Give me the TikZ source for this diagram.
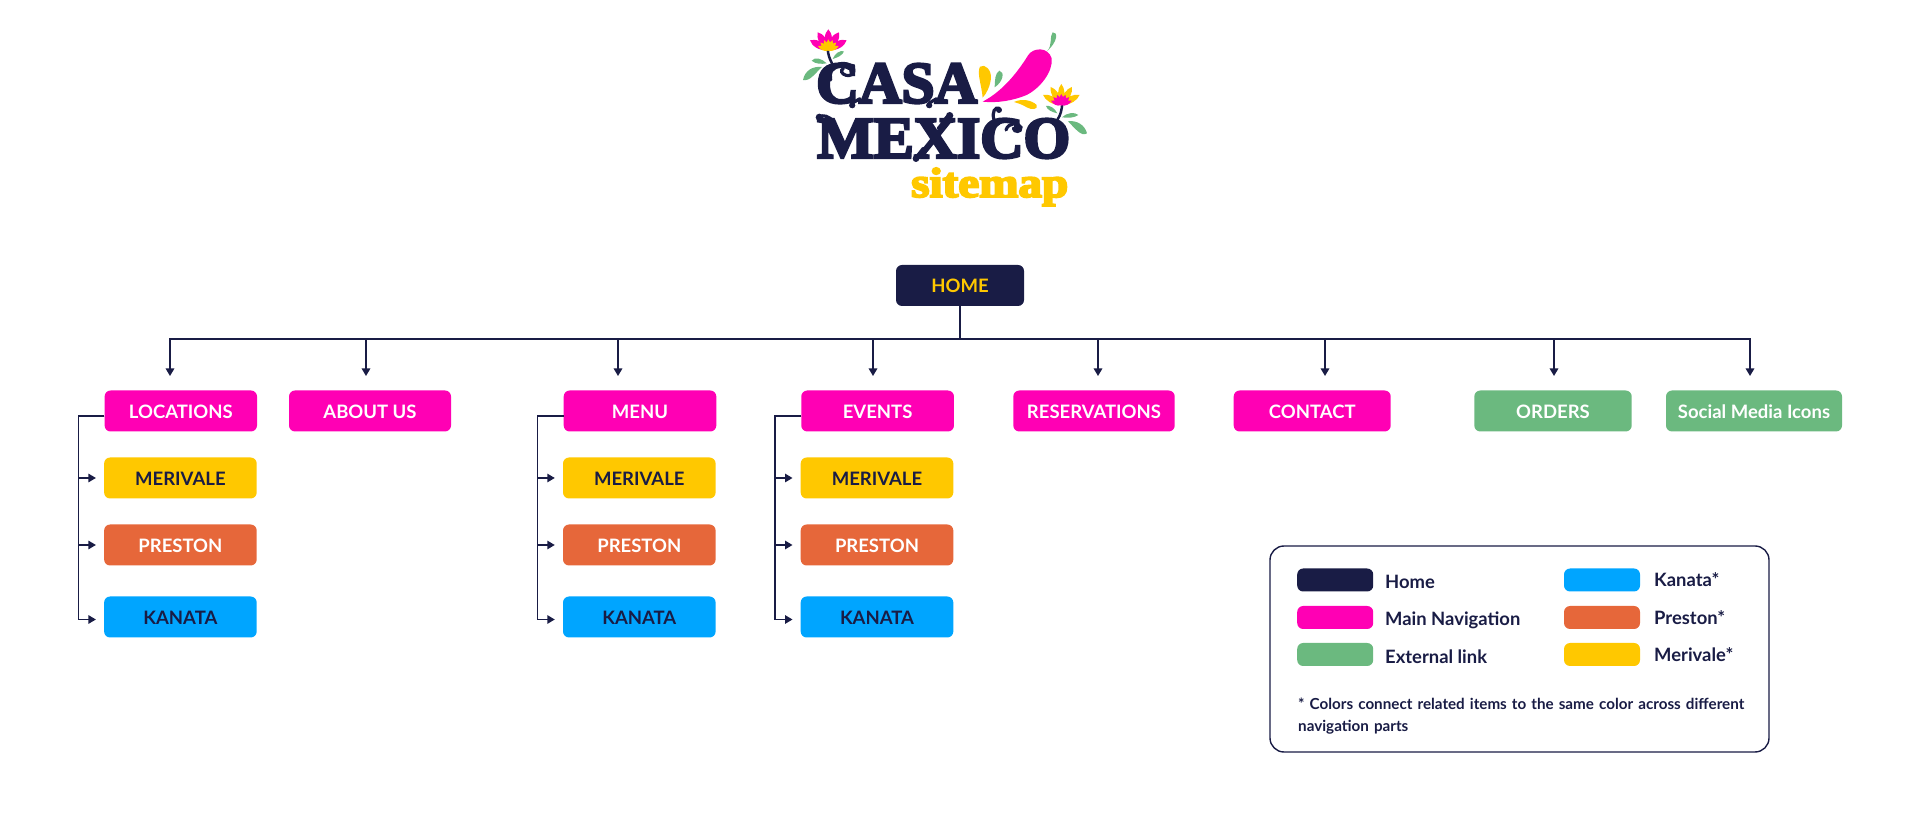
\documentclass[tikz,border=0pt]{standalone}
\usepackage{fontspec}
\usepackage{graphicx}
\setmainfont{Lato}
\newfontfamily\logofont[FakeBold=4.5]{Liberation Serif Bold}
\usetikzlibrary{arrows.meta,calc,positioning}
\definecolor{navy}{HTML}{191C45}
\definecolor{magentapink}{HTML}{FF00B4}
\definecolor{leafgreen}{HTML}{6BB97F}
\definecolor{sunyellow}{HTML}{FFC800}
\definecolor{chiliorange}{HTML}{E6673A}
\definecolor{skyblue}{HTML}{00A5FF}
\tikzset{
  basic/.style    = {rectangle, rounded corners=6pt, minimum height=41pt, inner sep=0pt,
                     text height=15pt, text depth=0pt,
                     font=\fontsize{18.5}{20}\selectfont\bfseries},
  home/.style     = {basic, fill=navy, text=sunyellow, minimum width=128pt},
  level 2/.style  = {basic, fill=magentapink, text=white},
  extern/.style   = {basic, fill=leafgreen, text=white},
  merivale/.style = {basic, fill=sunyellow, text=navy, minimum width=152.6pt},
  preston/.style  = {basic, fill=chiliorange, text=white, minimum width=152.6pt},
  kanata/.style   = {basic, fill=skyblue, text=navy, minimum width=152.6pt},
  swatch/.style   = {rectangle, rounded corners=6pt, minimum width=76pt, minimum height=23pt, inner sep=0pt},
  legendtext/.style = {anchor=base west, inner sep=0pt, text=navy,
                     font=\fontsize{18.4}{20}\selectfont\bfseries},
  link/.style     = {draw=navy, line width=1.4pt},
  curl/.style     = {draw=navy, line width=3.2pt, line cap=round}
}

\begin{document}
\begin{tikzpicture}[x=1pt, y=1pt, >={Triangle[length=7.5pt,width=8.5pt]}]
\useasboundingbox (0,0) rectangle (1920,825);

% logo lettering
\node[anchor=south west, inner sep=0pt, text=navy] (logocasa) at (816,721.5)
  {\resizebox{161pt}{39pt}{\logofont CASA}};
\node[anchor=south west, inner sep=0pt, text=navy] (logomexico) at (817,666.5)
  {\resizebox{253pt}{39pt}{\logofont MEXICO}};
\node[anchor=base west, inner sep=0pt, text=sunyellow] (logositemap) at (911,628)
  {\resizebox*{157pt}{38pt}{\logofont sitemap}};

% logo, in a frame of its own
\begin{scope}[shift={(760,825)}, x=0.3333pt, y=-0.3333pt]
% swashes of the letters
\draw[curl] (212,240) .. controls (205,200) and (235,185) .. (262,192)
  .. controls (292,200) and (285,232) .. (258,226) .. controls (245,222) and (240,212) .. (250,205);
\draw[curl] (178,352) .. controls (190,342) and (205,350) .. (220,362);
\fill[navy] (178,352) circle (11);
\draw[curl] (300,296) .. controls (285,305) and (272,310) .. (272,318);
\fill[navy] (277,316) circle (9);
\draw[curl] (530,296) .. controls (515,305) and (503,310) .. (503,318);
\fill[navy] (508,316) circle (9);
\draw[curl] (535,385) .. controls (550,370) and (555,350) .. (570,345);
\fill[navy] (569,347) circle (11);
\draw[curl] (490,445) .. controls (478,460) and (470,470) .. (466,478);
\fill[navy] (468,476) circle (10);
\draw[curl] (702,360) .. controls (695,335) and (705,320) .. (718,325);
\fill[navy] (717,330) circle (9);
\draw[curl] (738,390) .. controls (745,368) and (775,365) .. (783,382) .. controls (785,398) and (762,398) .. (760,385);
% chili and splashes
\fill[magentapink] (668,305) .. controls (735,270) and (780,205) .. (805,165)
  .. controls (820,142) and (865,140) .. (875,175)
  .. controls (880,215) and (840,265) .. (800,285)
  .. controls (760,302) and (710,310) .. (668,305) -- cycle;
\fill[leafgreen] (862,153) .. controls (878,135) and (868,110) .. (878,97)
  .. controls (895,95) and (893,125) .. (862,153) -- cycle;
\fill[sunyellow] (668,293) .. controls (665,255) and (650,220) .. (660,200)
  .. controls (675,190) and (695,210) .. (693,235)
  .. controls (690,260) and (680,280) .. (668,293) -- cycle;
\fill[leafgreen] (704,262) .. controls (705,240) and (705,220) .. (718,212)
  .. controls (735,215) and (730,245) .. (704,262) -- cycle;
\fill[sunyellow] (762,306) .. controls (785,295) and (815,300) .. (830,315)
  .. controls (835,330) and (815,330) .. (800,322)
  .. controls (790,315) and (775,310) .. (762,306) -- cycle;
% first flower
\draw[navy, line width=2.5pt, line cap=round] (203,148) .. controls (205,165) and (208,175) .. (216,190);
\foreach \a in {-62,-31,0,31,62}
  \fill[magentapink, rotate around={\a:(205,150)}] (205,150)
    .. controls (188,125) and (193,100) .. (205,88) .. controls (217,100) and (222,125) .. (205,150) -- cycle;
\foreach \a in {-66,-44,-22,0,22,44,66}
  \fill[sunyellow, rotate around={\a:(205,152)}] (205,152)
    .. controls (196,140) and (198,128) .. (205,118) .. controls (212,128) and (214,140) .. (205,152) -- cycle;
\fill[leafgreen] (200,190) .. controls (185,175) and (165,170) .. (155,182) .. controls (165,192) and (185,193) .. (200,190) -- cycle;
\fill[leafgreen] (218,177) .. controls (225,160) and (240,150) .. (252,154) .. controls (248,165) and (235,172) .. (218,177) -- cycle;
\fill[leafgreen] (186,201) .. controls (160,198) and (135,210) .. (129,240) .. controls (150,245) and (165,220) .. (186,201) -- cycle;
% second flower
\draw[navy, line width=2.5pt, line cap=round] (907,312) .. controls (905,330) and (902,345) .. (893,358);
\foreach \a in {-62,-31,0,31,62}
  \fill[sunyellow, rotate around={\a:(904,314)}] (904,314)
    .. controls (889,290) and (893,265) .. (904,252) .. controls (915,265) and (919,290) .. (904,314) -- cycle;
\foreach \a in {-66,-44,-22,0,22,44,66}
  \fill[magentapink, rotate around={\a:(904,316)}] (904,316)
    .. controls (895,304) and (897,292) .. (904,282) .. controls (911,292) and (913,304) .. (904,316) -- cycle;
\fill[leafgreen] (892,340) .. controls (885,325) and (870,315) .. (858,318) .. controls (862,330) and (875,336) .. (892,340) -- cycle;
\fill[leafgreen] (906,352) .. controls (920,338) and (945,335) .. (955,345) .. controls (945,353) and (925,355) .. (906,352) -- cycle;
\fill[leafgreen] (924,364) .. controls (950,360) and (975,375) .. (981,400) .. controls (965,412) and (945,385) .. (924,364) -- cycle;
\end{scope}

% root of the sitemap
\node[home] (home) at (960,539.5) {HOME};
\coordinate (bus) at (960,486);

% first level
\node[level 2, minimum width=152.4pt] (c1) at (180.8,414) {LOCATIONS};
\node[level 2, minimum width=162pt] (c2) at (370,414) {ABOUT US};
\node[level 2, minimum width=152.6pt] (c3) at (640,414) {MENU};
\node[level 2, minimum width=152.7pt] (c4) at (877.6,414) {EVENTS};
\node[level 2, minimum width=161.4pt] (c5) at (1094,414) {RESERVATIONS};
\node[level 2, minimum width=157pt] (c6) at (1312.2,414) {CONTACT};
\node[extern, minimum width=157.4pt] (c7) at (1553,414) {ORDERS};
\node[extern, minimum width=176pt] (c8) at (1754,414) {Social Media Icons};

% second level, below each parent
\begin{scope}[node distance=67pt]
\node[merivale, below of = c1, xshift=-0.4pt] (c11) {MERIVALE};
\node[preston, below of = c11] (c12) {PRESTON};
\node[kanata, below of = c12, yshift=-5pt] (c13) {KANATA};

\node[merivale, below of = c3, xshift=-0.7pt] (c31) {MERIVALE};
\node[preston, below of = c31] (c32) {PRESTON};
\node[kanata, below of = c32, yshift=-5pt] (c33) {KANATA};

\node[merivale, below of = c4, xshift=-0.6pt] (c41) {MERIVALE};
\node[preston, below of = c41] (c42) {PRESTON};
\node[kanata, below of = c42, yshift=-5pt] (c43) {KANATA};
\end{scope}

% free ends of the lines coming down from the bus
\foreach \value/\xpos in {1/170,2/366,3/618,4/873,5/1098,6/1325,7/1554,8/1750}
  \coordinate (t\value) at (\xpos,449);

\foreach \value in {1,...,8}
  \draw[link,->] (home.south) -- (bus) -| (t\value);

% lines from each first level node to its children
\foreach \parent in {1,3,4}
  \foreach \value/\off in {1/0,2/0,3/-2.5}
    \draw[link,->,shorten >=8pt] (c\parent.west) ++(0,-5) -- ++(-26,0) |- ([yshift=\off pt]c\parent\value.west);

% legend
\node[draw=navy, line width=1.4pt, rounded corners=14pt, minimum width=499pt, minimum height=206pt] (legend) at (1519.5,176) {};
\node[swatch, fill=navy] (s1) at (1335.2,245) {};
\node[swatch, fill=magentapink] (s2) at (1335.2,207.5) {};
\node[swatch, fill=leafgreen] (s3) at (1335.2,170.5) {};
\node[swatch, fill=skyblue] (s4) at (1602,245) {};
\node[swatch, fill=chiliorange] (s5) at (1602,207.5) {};
\node[swatch, fill=sunyellow] (s6) at (1602,170.5) {};

\node[legendtext] (l1) at (1385,236.5) {Home};
\node[legendtext] (l2) at (1385,199) {Main Navigation};
\node[legendtext] (l3) at (1385,161.5) {External link};
\node[legendtext] (l4) at (1654,238.5) {Kanata*};
\node[legendtext] (l5) at (1654,200.5) {Preston*};
\node[legendtext] (l6) at (1654,163.5) {Merivale*};

\node[legendtext, font=\fontsize{15.2}{22}\selectfont\bfseries, anchor=north west, text width=470pt, align=left] (note) at (1298,127)
  {* Colors connect related items to the same color across different navigation parts};
\end{tikzpicture}
\end{document}
